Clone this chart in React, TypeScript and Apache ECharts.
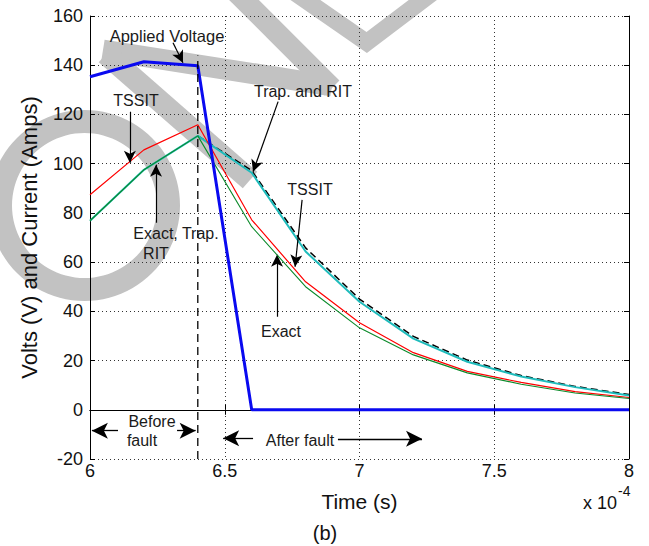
import React, { useEffect, useRef } from "react";
import * as echarts from "echarts";

// ---- data (time in units of 1e-4 s) ----
const timeSteps = [6.0, 6.2, 6.4, 6.6, 6.8, 7.0, 7.2, 7.4, 7.6, 7.8, 8.0];
const appliedVoltage = [135.3, 141.4, 139.8, 0, 0, 0, 0, 0, 0, 0, 0];
const exactCurrent = [76.8, 97.5, 111.3, 74.4, 50.0, 33.3, 22.3, 15.0, 10.4, 6.8, 4.6];
const tssitCurrent = [87.4, 105.6, 115.8, 77.2, 52.0, 35.4, 23.2, 15.6, 11.1, 7.4, 5.0];
const ritCurrent = [76.8, 97.5, 111.3, 96.3, 64.3, 43.9, 28.9, 19.5, 13.5, 9.2, 5.8];
const trapCurrent = [null, null, 111.3, 97.2, 65.8, 45.0, 29.8, 20.2, 13.9, 9.5, 6.2];
const faultTime = 6.4;
const faultLineTop = 144;

// axis setup
const xMin = 6, xMax = 8, xStep = 0.5;
const yMin = -20, yMax = 160, yStep = 20;

// annotation arrows in data coordinates: [x1, y1, x2, y2] (tail -> head)
const calloutArrows = [
  [6.308, 149.1, 6.345, 141.0], // Applied Voltage
  [6.148, 121.1, 6.148, 100.4], // TSSIT (left)
  [6.245, 76.0, 6.245, 99.6], // Exact, Trap. RIT
  [6.698, 125.2, 6.605, 96.7], // Trap. and RIT
  [6.787, 85.3, 6.761, 58.1], // TSSIT (right)
  [6.694, 37.8, 6.694, 63.0], // Exact
];
const regionArrows = [
  [6.104, -8.5, 6.007, -8.5], // before fault left
  [6.323, -8.5, 6.392, -8.5], // before fault right
  [6.605, -11.6, 6.494, -11.6], // after fault left
  [6.92, -11.8, 7.232, -11.8], // after fault right
];

const FONT = '"Liberation Sans", Arial, Helvetica, sans-serif';

function pairs(ys: (number | null)[]) {
  const out: number[][] = [];
  ys.forEach((y, i) => {
    if (y !== null) out.push([timeSteps[i], y]);
  });
  return out;
}

function txt(text: string, x: number, y: number, size: number, align = "center", color = "#1a1a1a") {
  return {
    type: "text",
    x,
    y,
    z: 20,
    silent: true,
    style: {
      text,
      font: `${size}px ${FONT}`,
      fill: color,
      align,
      verticalAlign: "middle",
      textAlign: align,
      textVerticalAlign: "middle",
    },
  };
}

const WM = "#c2c2c2";
function band(points: number[][], width: number) {
  return {
    type: "polyline",
    z: 1,
    silent: true,
    shape: { points },
    style: { stroke: WM, lineWidth: width, fill: null, lineJoin: "miter", lineCap: "butt" },
  };
}

export default function App() {
  const ref = useRef<HTMLDivElement>(null);

  useEffect(() => {
    if (!ref.current) return;
    const chart = echarts.init(ref.current, undefined, { renderer: "svg" });

    const axisCommon = {
      axisLine: { show: true, lineStyle: { color: "#000", width: 1 } },
      axisTick: { show: true, inside: true, length: 5, lineStyle: { color: "#000" } },
      z: 2,
    };

    const option = {
      animation: false,
      backgroundColor: "#fff",
      grid: { left: 90, top: 16, width: 539, height: 443, containLabel: false },
      xAxis: [
        {
          type: "value",
          min: xMin,
          max: xMax,
          interval: xStep,
          position: "bottom",
          ...axisCommon,
          axisLabel: { fontSize: 18, fontFamily: FONT, color: "#111", margin: 3 },
          splitLine: { show: true, lineStyle: { color: "#333", type: [1, 3], width: 1 } },
          name: "Time (s)",
          nameLocation: "middle",
          nameGap: 32,
          nameTextStyle: { fontSize: 21, fontFamily: FONT, color: "#111" },
        },
        {
          type: "value",
          min: xMin,
          max: xMax,
          interval: xStep,
          position: "top",
          ...axisCommon,
          axisLabel: { show: false },
          splitLine: { show: false },
        },
      ],
      yAxis: [
        {
          type: "value",
          min: yMin,
          max: yMax,
          interval: yStep,
          position: "left",
          ...axisCommon,
          axisLabel: { fontSize: 18, fontFamily: FONT, color: "#111", margin: 7 },
          splitLine: { show: true, lineStyle: { color: "#333", type: [1, 3], width: 1 } },
          name: "Volts (V) and Current (Amps)",
          nameLocation: "middle",
          nameGap: 50,
          nameTextStyle: { fontSize: 22, fontFamily: FONT, color: "#111" },
        },
        {
          type: "value",
          min: yMin,
          max: yMax,
          interval: yStep,
          position: "right",
          ...axisCommon,
          axisLabel: { show: false },
          splitLine: { show: false },
        },
      ],
      series: [
        {
          name: "Trap.",
          type: "line",
          z: 3,
          symbol: "none",
          data: pairs(trapCurrent),
          lineStyle: { color: "#000", width: 1.5, type: [7, 4] },
        },
        {
          name: "RIT",
          type: "line",
          z: 4,
          symbol: "none",
          data: pairs(ritCurrent),
          lineStyle: { color: "#1fbcbc", width: 2 },
        },
        {
          name: "TSSIT",
          type: "line",
          z: 4,
          symbol: "none",
          data: pairs(tssitCurrent),
          lineStyle: { color: "#ff0000", width: 1.2 },
        },
        {
          name: "Exact",
          type: "line",
          z: 5,
          symbol: "none",
          data: pairs(exactCurrent),
          lineStyle: { color: "#0b8a2a", width: 1.1 },
        },
        {
          name: "Applied Voltage",
          type: "line",
          z: 6,
          symbol: "none",
          data: pairs(appliedVoltage),
          lineStyle: { color: "#0a0af0", width: 3 },
        },
        {
          name: "fault",
          type: "line",
          z: 6,
          symbol: "none",
          data: [
            [faultTime, yMin],
            [faultTime, faultLineTop],
          ],
          lineStyle: { color: "#000", width: 1.3, type: [8, 5] },
        },
        {
          name: "callouts",
          type: "line",
          z: 7,
          symbol: "none",
          data: [],
          markLine: {
            silent: true,
            animation: false,
            symbol: ["none", "arrow"],
            symbolSize: [9, 12],
            label: { show: false },
            lineStyle: { color: "#000", width: 1.2, type: "solid" },
            emphasis: { disabled: true },
            data: calloutArrows.map((a) => [{ coord: [a[0], a[1]] }, { coord: [a[2], a[3]] }]),
          },
        },
        {
          name: "regions",
          type: "line",
          z: 7,
          symbol: "none",
          data: [],
          markLine: {
            silent: true,
            animation: false,
            symbol: ["none", "arrow"],
            symbolSize: [12, 16],
            label: { show: false },
            lineStyle: { color: "#000", width: 1.3, type: "solid" },
            emphasis: { disabled: true },
            data: regionArrows.map((a) => [{ coord: [a[0], a[1]] }, { coord: [a[2], a[3]] }]),
          },
        },
      ],
      graphic: {
        elements: [
          // watermark
          {
            type: "ring",
            z: 1,
            silent: true,
            shape: { cx: 84.5, cy: 205.5, r: 95.5, r0: 72.5 },
            style: { fill: WM },
          },
          band([[103, 50], [332, 86]], 21),
          band([[106, 54], [250, 180]], 22),
          band([[236, -8], [332, 88]], 21),
          band([[291, -10], [366.7, 42.5], [436, -10]], 17),
          // annotations
          txt("Applied Voltage", 167, 36, 16.5),
          txt("TSSIT", 136, 100, 16),
          txt("Exact, Trap.", 176, 233, 16),
          txt("RIT", 156, 253, 16),
          txt("Trap. and RIT", 303, 91, 16),
          txt("TSSIT", 310, 189, 16),
          txt("Exact", 281, 331, 16),
          txt("Before", 152, 421, 16),
          txt("fault", 142, 440, 16),
          txt("After fault", 300, 440, 16),
          txt("x 10", 617, 503, 18, "right", "#111"),
          txt("-4", 618, 491, 14, "left", "#111"),
          txt("(b)", 325, 533, 20, "center", "#111"),
        ],
      },
    };

    chart.setOption(option as any);
    return () => chart.dispose();
  }, []);

  return (
    <div
      ref={ref}
      style={{ position: "absolute", left: 0, top: 0, width: 649, height: 546 }}
    />
  );
}
